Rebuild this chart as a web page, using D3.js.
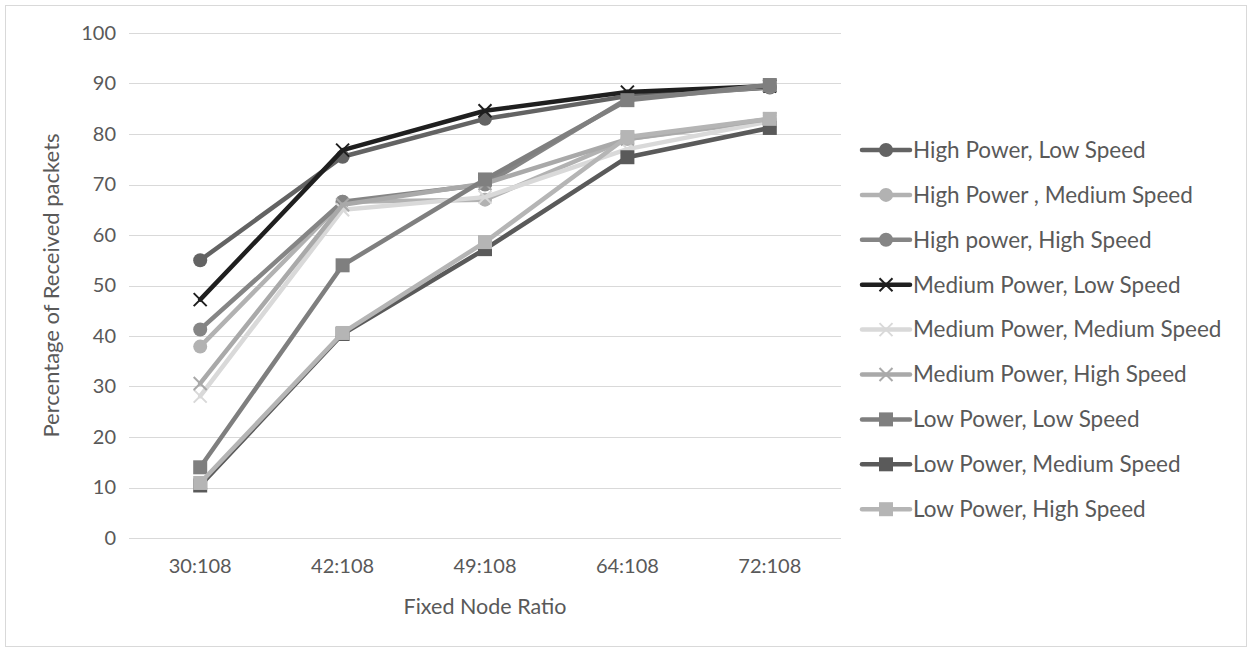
<!DOCTYPE html>
<html>
<head>
<meta charset="utf-8">
<script src="https://cdn.jsdelivr.net/npm/d3@7"></script>
<style>
  html, body { margin: 0; padding: 0; background: #fff; }
  svg { display: block; font-family: Lato, "Open Sans", sans-serif; }
</style>
</head>
<body>
<svg id="chart" width="1251" height="652"></svg>
<script>
// Categories on the x axis
const ratios = ["30:108", "42:108", "49:108", "64:108", "72:108"];
const yTicks = [0, 10, 20, 30, 40, 50, 60, 70, 80, 90, 100];

// Percentage of received packets per configuration
const highPowerLowSpeed    = [55.0, 75.5, 83.0, 87.5, 89.2];
const highPowerMediumSpeed = [37.9, 66.6, 67.0, 79.0, 82.7];
const highPowerHighSpeed   = [41.3, 66.6, 70.0, 87.0, 89.3];
const medPowerLowSpeed     = [47.2, 76.8, 84.6, 88.3, 89.5];
const medPowerMediumSpeed  = [28.1, 65.0, 67.5, 77.0, 82.5];
const medPowerHighSpeed    = [30.6, 66.0, 70.2, 79.0, 83.0];
const lowPowerLowSpeed     = [14.0, 54.0, 71.0, 86.7, 89.7];
const lowPowerMediumSpeed  = [10.4, 40.4, 57.2, 75.4, 81.2];
const lowPowerHighSpeed    = [10.9, 40.6, 58.6, 79.4, 83.0];

const seriesNames = [
  "High Power, Low Speed",
  "High Power , Medium Speed",
  "High power, High Speed",
  "Medium Power, Low Speed",
  "Medium Power, Medium Speed",
  "Medium Power, High Speed",
  "Low Power, Low Speed",
  "Low Power, Medium Speed",
  "Low Power, High Speed"
];
const seriesValues = [
  highPowerLowSpeed, highPowerMediumSpeed, highPowerHighSpeed,
  medPowerLowSpeed, medPowerMediumSpeed, medPowerHighSpeed,
  lowPowerLowSpeed, lowPowerMediumSpeed, lowPowerHighSpeed
];
const seriesColors = ["#636363", "#b2b2b2", "#858585", "#1f1f1f", "#d9d9d9",
                      "#a9a9a9", "#7f7f7f", "#5a5a5a", "#b5b5b5"];
const seriesMarkers = ["circle", "circle", "circle", "cross", "cross", "cross",
                       "square", "square", "square"];

const svg = d3.select("#chart");

// chart frame
svg.append("rect")
  .attr("x", 5.5).attr("y", 5.5).attr("width", 1241).attr("height", 641)
  .attr("fill", "#fff").attr("stroke", "#d9d9d9").attr("stroke-width", 1);

const plot = { left: 129, right: 841, top: 33, bottom: 538 };

const x = d3.scaleBand().domain(ratios).range([plot.left, plot.right]);
const y = d3.scaleLinear().domain([0, 100]).range([plot.bottom, plot.top]);
const cx = d => x(d) + x.bandwidth() / 2;

// horizontal gridlines
svg.append("g").selectAll("line").data(yTicks).join("line")
  .attr("x1", plot.left).attr("x2", plot.right)
  .attr("y1", d => Math.round(y(d)) + 0.5).attr("y2", d => Math.round(y(d)) + 0.5)
  .attr("stroke", "#d9d9d9").attr("stroke-width", 1.2);

// y axis labels
const yAxis = svg.append("g").attr("transform", `translate(${plot.left},0)`)
  .call(d3.axisLeft(y).tickValues(yTicks).tickSize(0).tickPadding(13));
yAxis.select(".domain").remove();
yAxis.selectAll("text").attr("font-size", 20).attr("fill", "#595959")
  .attr("font-family", "Lato, sans-serif");

// x axis labels
const xAxis = svg.append("g").attr("transform", `translate(0,${plot.bottom})`)
  .call(d3.axisBottom(x).tickSize(0).tickPadding(21));
xAxis.select(".domain").remove();
xAxis.selectAll("text").attr("font-size", 20).attr("fill", "#595959")
  .attr("font-family", "Lato, sans-serif");

// axis titles
svg.append("text")
  .attr("x", (plot.left + plot.right) / 2).attr("y", 614)
  .attr("text-anchor", "middle").attr("font-size", 21.5).attr("fill", "#595959")
  .text("Fixed Node Ratio");
svg.append("text")
  .attr("transform", `translate(59,${(plot.top + plot.bottom) / 2}) rotate(-90)`)
  .attr("text-anchor", "middle").attr("font-size", 22).attr("fill", "#595959")
  .text("Percentage of Received packets");

const line = d3.line().x((d, i) => cx(ratios[i])).y(d => y(d));

function drawMarker(g, type, color, px, py) {
  if (type === "circle") {
    g.append("circle").attr("cx", px).attr("cy", py).attr("r", 7).attr("fill", color);
  } else if (type === "square") {
    g.append("rect").attr("x", px - 7).attr("y", py - 7)
      .attr("width", 14).attr("height", 14).attr("fill", color);
  } else {
    const s = 6.5;
    g.append("path")
      .attr("d", `M${px - s},${py - s}L${px + s},${py + s}M${px - s},${py + s}L${px + s},${py - s}`)
      .attr("stroke", color).attr("stroke-width", 2).attr("fill", "none");
  }
}

// series lines and markers
seriesValues.forEach((vals, k) => {
  const g = svg.append("g");
  g.append("path").datum(vals).attr("d", line)
    .attr("fill", "none").attr("stroke", seriesColors[k])
    .attr("stroke-width", 4.5).attr("stroke-linejoin", "round").attr("stroke-linecap", "round");
  vals.forEach((v, i) => drawMarker(g, seriesMarkers[k], seriesColors[k], cx(ratios[i]), y(v)));
});

// legend
const legend = svg.append("g");
seriesNames.forEach((name, k) => {
  const ly = 150 + k * 44.9;
  const g = legend.append("g");
  g.append("line").attr("x1", 862).attr("x2", 910).attr("y1", ly).attr("y2", ly)
    .attr("stroke", seriesColors[k]).attr("stroke-width", 4.5).attr("stroke-linecap", "round");
  drawMarker(g, seriesMarkers[k], seriesColors[k], 886, ly);
  g.append("text").attr("x", 913).attr("y", ly).attr("dy", "0.35em")
    .attr("font-size", 22.5).attr("fill", "#595959").text(name);
});
</script>
</body>
</html>
